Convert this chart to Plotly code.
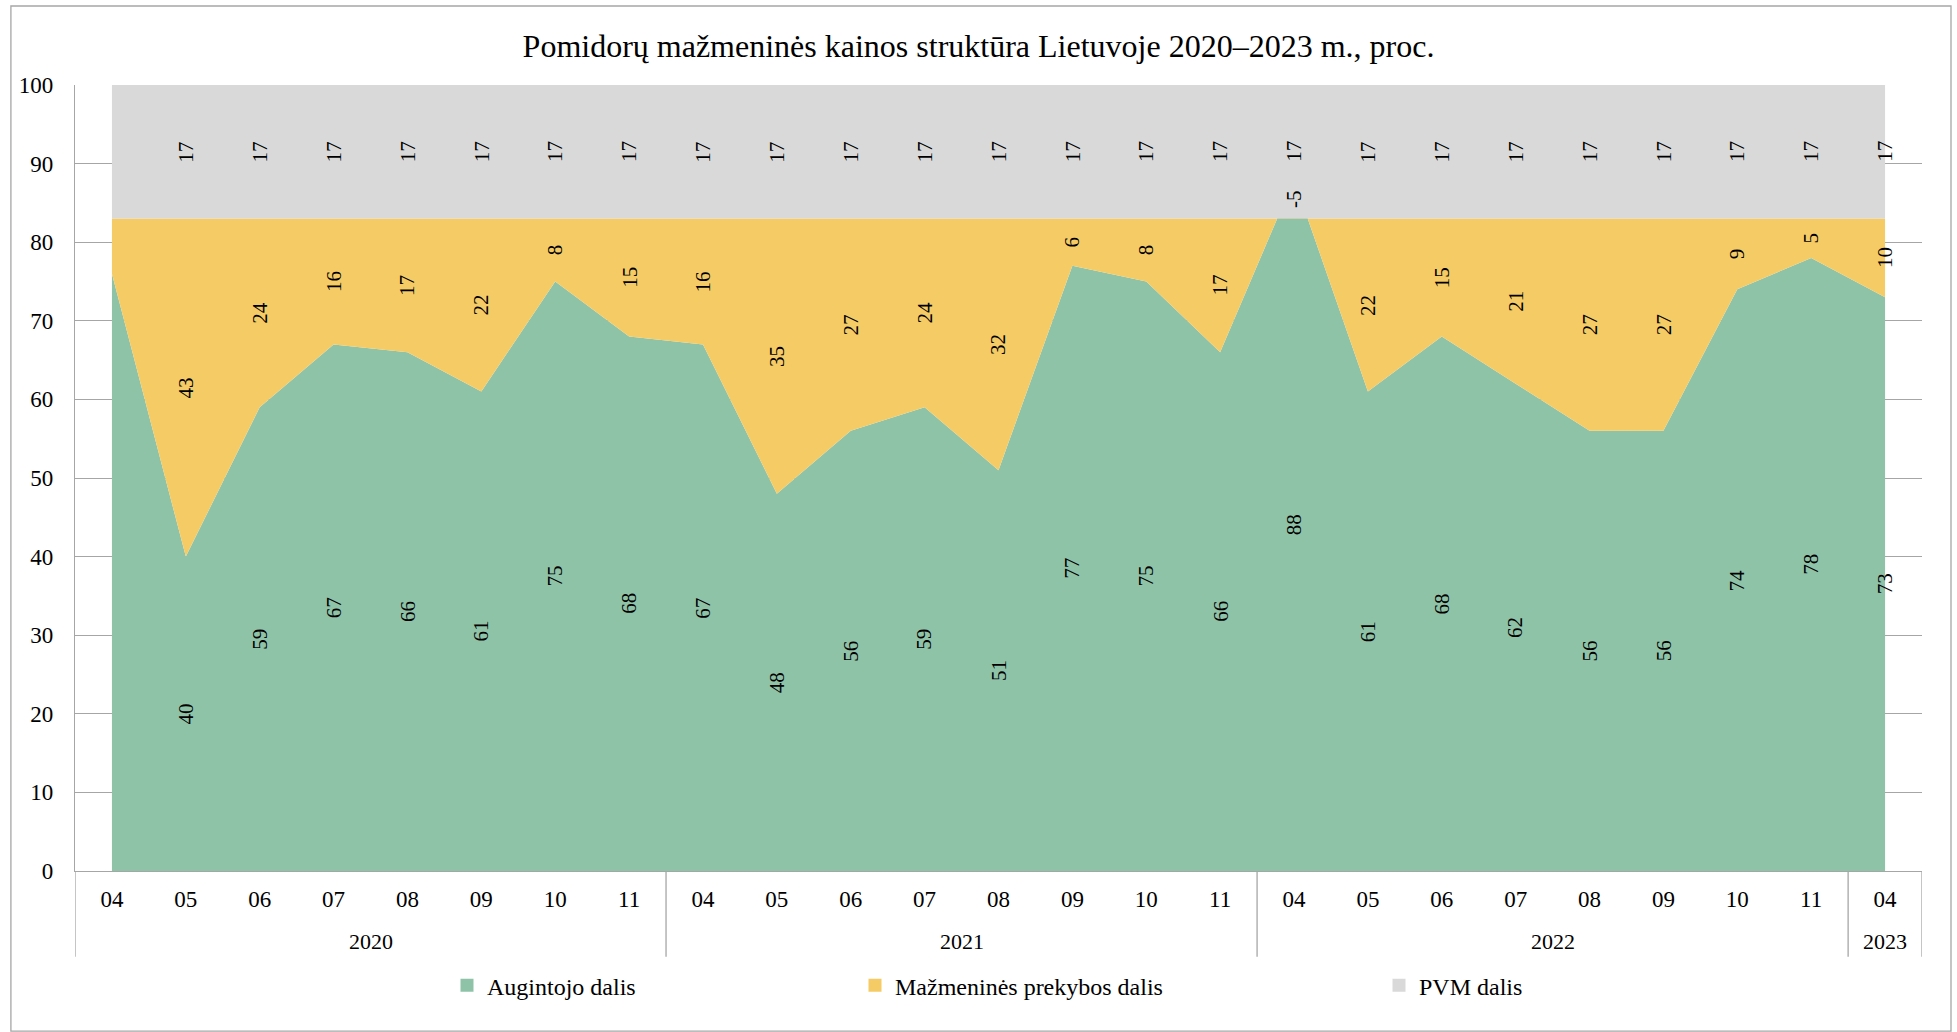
import plotly.graph_objects as go

# Month / year categories of the observation points
years = ["2020", "2020", "2020", "2020", "2020", "2020", "2020", "2020",
         "2021", "2021", "2021", "2021", "2021", "2021", "2021", "2021",
         "2022", "2022", "2022", "2022", "2022", "2022", "2022", "2022",
         "2023"]
months = ["04", "05", "06", "07", "08", "09", "10", "11",
          "04", "05", "06", "07", "08", "09", "10", "11",
          "04", "05", "06", "07", "08", "09", "10", "11",
          "04"]

# Shares of the retail price, %
augintojo = [76, 40, 59, 67, 66, 61, 75, 68,
             67, 48, 56, 59, 51, 77, 75, 66,
             88, 61, 68, 62, 56, 56, 74, 78,
             73]
mazmenines = [7, 43, 24, 16, 17, 22, 8, 15,
              16, 35, 27, 24, 32, 6, 8, 17,
              -5, 22, 15, 21, 27, 27, 9, 5,
              10]
pvm = [17, 17, 17, 17, 17, 17, 17, 17,
       17, 17, 17, 17, 17, 17, 17, 17,
       17, 17, 17, 17, 17, 17, 17, 17,
       17]

series = [
    ("Augintojo dalis", augintojo, "#8FC3A8", "legend"),
    ("Mažmeninės prekybos dalis", mazmenines, "#F5CB66", "legend2"),
    ("PVM dalis", pvm, "#D9D9D9", "legend3"),
]

FONT = "Liberation Serif"
x = list(range(len(months)))

fig = go.Figure()

# Stacked areas
for name, vals, color, _ in series:
    fig.add_trace(go.Scatter(
        x=x, y=vals, name=name, mode="none", stackgroup="one",
        fillcolor=color, showlegend=False, hoverinfo="skip",
    ))

# Legend entries with small square swatches
for name, vals, color, lg in series:
    fig.add_trace(go.Scatter(
        x=[None], y=[None], name=name, mode="markers",
        marker=dict(symbol="square", size=13, color=color),
        legend=lg, showlegend=True,
    ))

# Value labels centred in each band (first point left unlabelled)
annotations = []
base = [0] * len(x)
for name, vals, color, _ in series:
    for i in x:
        mid = base[i] + vals[i] / 2
        if i > 0:
            annotations.append(dict(
                x=i, y=mid, xref="x", yref="y", text=str(vals[i]),
                showarrow=False, textangle=-90,
                font=dict(family=FONT, size=21, color="#000000"),
            ))
    base = [b + v for b, v in zip(base, vals)]

# Year group labels and dividers beneath the month labels
shapes = []
groups = []
for i, yr in enumerate(years):
    if not groups or groups[-1][0] != yr:
        groups.append([yr, i, i])
    else:
        groups[-1][2] = i
for yr, start, end in groups:
    annotations.append(dict(
        x=(start + end) / 2, y=-0.090, xref="x", yref="paper", text=yr,
        showarrow=False, yanchor="middle",
        font=dict(family=FONT, size=22, color="#000000"),
    ))
    shapes.append(dict(type="line", xref="x", yref="paper",
                       x0=start - 0.5, x1=start - 0.5, y0=0, y1=-0.109,
                       line=dict(color="#a6a6a6", width=1.3)))
last = groups[-1][2] + 0.5
shapes.append(dict(type="line", xref="x", yref="paper",
                   x0=last, x1=last, y0=0, y1=-0.109,
                   line=dict(color="#a6a6a6", width=1.3)))

# Outer chart border
shapes.append(dict(type="rect", xref="paper", yref="paper",
                   x0=-0.0347, x1=1.0157, y0=-0.2036, y1=1.1005,
                   line=dict(color="#a6a6a6", width=1.3), layer="below"))

legend_style = dict(
    orientation="h", yanchor="middle", y=-0.146, xanchor="left",
    font=dict(family=FONT, size=24, color="#000000"),
    bgcolor="rgba(0,0,0,0)", itemwidth=30,
)

fig.update_layout(
    width=1957, height=1032,
    margin=dict(l=75, r=35, t=85, b=161),
    paper_bgcolor="#ffffff", plot_bgcolor="#ffffff",
    title=dict(
        text="Pomidorų mažmeninės kainos struktūra Lietuvoje 2020–2023 m., proc.",
        x=0.5, xref="container", xanchor="center",
        y=1 - 46 / 1032, yref="container", yanchor="middle",
        font=dict(family=FONT, size=32, color="#000000"),
    ),
    xaxis=dict(
        tickmode="array", tickvals=x, ticktext=months,
        range=[-0.5, len(x) - 0.5], showgrid=False, zeroline=False,
        showline=True, linecolor="#a6a6a6", linewidth=1.3,
        ticks="", ticklabelstandoff=7,
        tickfont=dict(family=FONT, size=23, color="#000000"),
    ),
    yaxis=dict(
        range=[0, 100], dtick=10, showgrid=True, gridcolor="#a6a6a6",
        gridwidth=1.3, zeroline=False, showline=True, linecolor="#a6a6a6",
        linewidth=1.3, ticks="", ticklabelstandoff=16,
        tickfont=dict(family=FONT, size=23, color="#000000"),
    ),
    legend=dict(legend_style, x=(447 - 75) / 1847),
    legend2=dict(legend_style, x=(855 - 75) / 1847),
    legend3=dict(legend_style, x=(1379 - 75) / 1847),
    annotations=annotations,
    shapes=shapes,
    showlegend=True,
)

fig.write_html("out.html")
